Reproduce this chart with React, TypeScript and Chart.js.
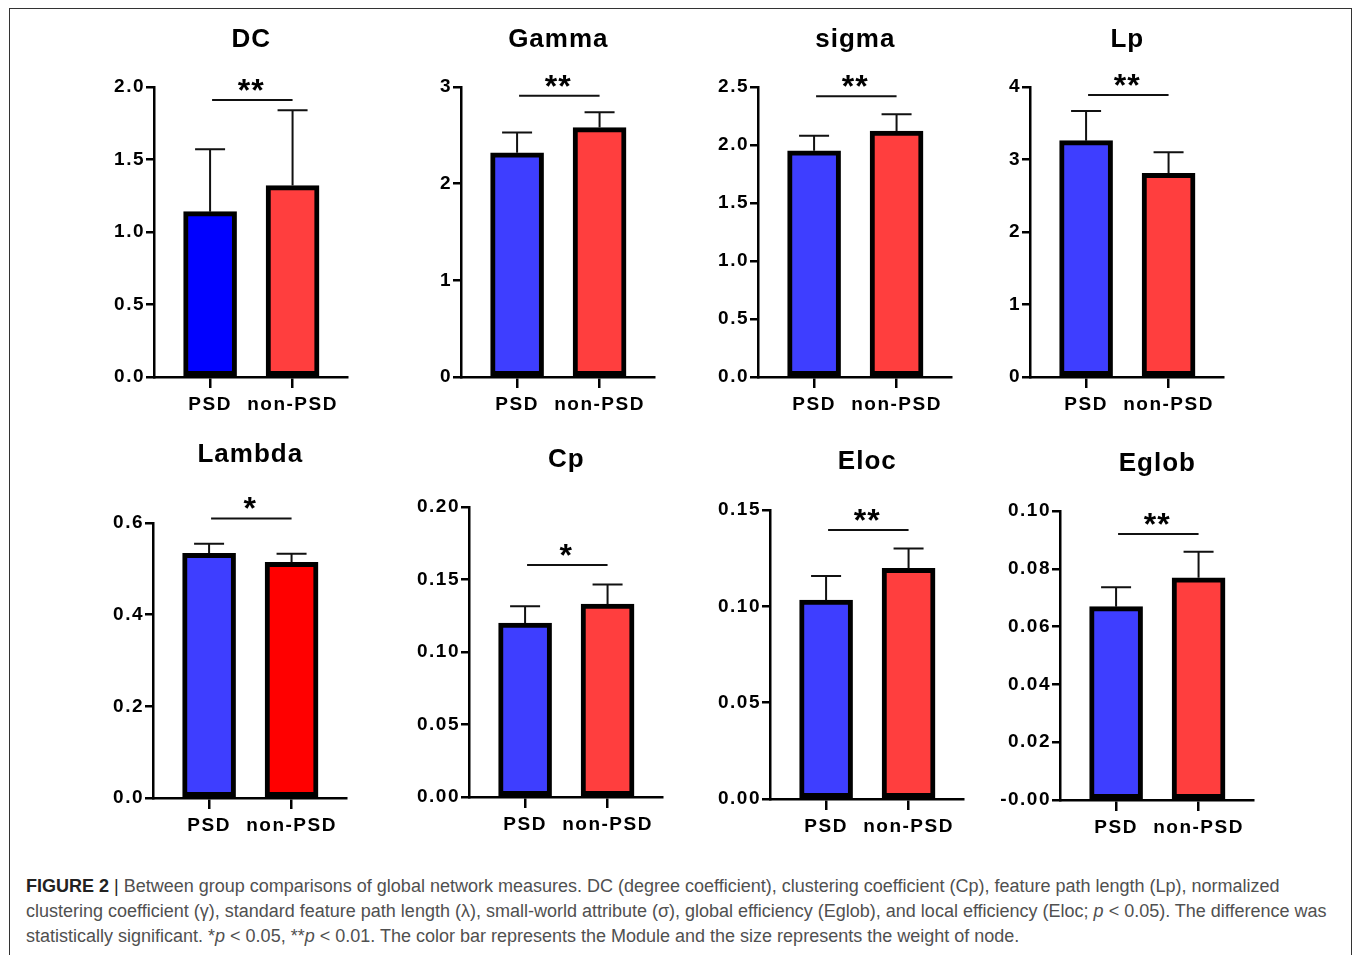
import React, { useEffect, useRef } from 'react';
import { Chart, registerables } from 'chart.js';

Chart.register(...registerables);

// ---------- data ----------
const groups = ['PSD', 'non-PSD'];
const panelTitles = ['DC', 'Gamma', 'sigma', 'Lp', 'Lambda', 'Cp', 'Eloc', 'Eglob'];

const dcMeans = [1.14, 1.32];
const dcErr = [0.43, 0.52];
const dcTicks = ['0.0', '0.5', '1.0', '1.5', '2.0'];

const gammaMeans = [2.32, 2.58];
const gammaErr = [0.21, 0.16];
const gammaTicks = ['0', '1', '2', '3'];

const sigmaMeans = [1.95, 2.12];
const sigmaErr = [0.13, 0.145];
const sigmaTicks = ['0.0', '0.5', '1.0', '1.5', '2.0', '2.5'];

const lpMeans = [3.26, 2.81];
const lpErr = [0.41, 0.29];
const lpTicks = ['0', '1', '2', '3', '4'];

const lambdaMeans = [0.534, 0.514];
const lambdaErr = [0.021, 0.019];
const lambdaTicks = ['0.0', '0.2', '0.4', '0.6'];

const cpMeans = [0.12, 0.133];
const cpErr = [0.0115, 0.0135];
const cpTicks = ['0.00', '0.05', '0.10', '0.15', '0.20'];

const elocMeans = [0.1032, 0.1197];
const elocErr = [0.0126, 0.0103];
const elocTicks = ['0.00', '0.05', '0.10', '0.15'];

const eglobMeans = [0.0669, 0.0769];
const eglobErr = [0.0067, 0.009];
const eglobTicks = ['-0.00', '0.02', '0.04', '0.06', '0.08', '0.10'];

const axisMax = [2.0, 3, 2.5, 4, 0.6, 0.2, 0.15, 0.1];
const axisStep = [0.5, 1, 0.5, 1, 0.2, 0.05, 0.05, 0.02];
const significance = ['**', '**', '**', '**', '*', '*', '**', '**'];
const bracketLevels = [1.91, 2.91, 2.42, 3.89, 0.61, 0.16, 0.1396, 0.092];

const allMeans = [dcMeans, gammaMeans, sigmaMeans, lpMeans, lambdaMeans, cpMeans, elocMeans, eglobMeans];
const allErr = [dcErr, gammaErr, sigmaErr, lpErr, lambdaErr, cpErr, elocErr, eglobErr];
const allTicks = [dcTicks, gammaTicks, sigmaTicks, lpTicks, lambdaTicks, cpTicks, elocTicks, eglobTicks];

// ---------- styling / layout ----------
const BLUE = '#3e3eff';
const RED = '#ff3e3e';
const barColors = [
  ['#0000ff', RED],
  [BLUE, RED],
  [BLUE, RED],
  [BLUE, RED],
  [BLUE, '#ff0000'],
  [BLUE, RED],
  [BLUE, RED],
  [BLUE, RED],
];

const layoutSpec = [
  { axisX: 154, top: 87, plotH: 290, titleGap: 47 },
  { axisX: 461, top: 87, plotH: 290, titleGap: 47 },
  { axisX: 758, top: 87, plotH: 290, titleGap: 47 },
  { axisX: 1030, top: 87, plotH: 290, titleGap: 47 },
  { axisX: 153, top: 523, plotH: 275, titleGap: 68 },
  { axisX: 469, top: 507, plotH: 290, titleGap: 47 },
  { axisX: 770, top: 510, plotH: 289, titleGap: 48 },
  { axisX: 1060, top: 511, plotH: 289, titleGap: 47 },
];

const Y_W = 80;
const PAD_TOP = 80;
const PAD_R = 20;
const PLOT_W = 193;
const X_H = 50;
const FONT = '"Liberation Sans", Arial, Helvetica, sans-serif';

function Panel({ idx }: { idx: number }) {
  const ref = useRef<HTMLCanvasElement | null>(null);
  const spec = layoutSpec[idx];
  const width = Y_W + PLOT_W + PAD_R;
  const height = PAD_TOP + spec.plotH + X_H;

  useEffect(() => {
    if (!ref.current) return;
    const means = allMeans[idx];
    const errs = allErr[idx];
    const tickLabels = allTicks[idx];

    const annot = {
      id: 'annot' + idx,
      beforeDraw(chart: any) {
        chart.ctx.letterSpacing = '1.5px';
      },
      afterDatasetsDraw(chart: any) {
        const ctx = chart.ctx;
        const xs = chart.scales.x;
        const ys = chart.scales.y;
        ctx.save();
        // error bars
        ctx.strokeStyle = '#111';
        ctx.lineWidth = 2;
        means.forEach((m: number, i: number) => {
          const px = xs.getPixelForValue(i);
          const y0 = ys.getPixelForValue(m);
          const y1 = ys.getPixelForValue(m + errs[i]);
          ctx.beginPath();
          ctx.moveTo(px, y0);
          ctx.lineTo(px, y1);
          ctx.moveTo(px - 15, y1);
          ctx.lineTo(px + 15, y1);
          ctx.stroke();
        });
        // significance bracket
        const bx0 = xs.getPixelForValue(0);
        const bx1 = xs.getPixelForValue(1);
        const by = ys.getPixelForValue(bracketLevels[idx]);
        ctx.lineWidth = 2;
        ctx.beginPath();
        ctx.moveTo(bx0 + 2, by);
        ctx.lineTo(bx1, by);
        ctx.stroke();
        ctx.letterSpacing = '1px';
        ctx.fillStyle = '#000';
        ctx.font = `bold 32px ${FONT}`;
        ctx.textAlign = 'center';
        ctx.textBaseline = 'alphabetic';
        ctx.fillText(significance[idx], (bx0 + bx1) / 2, by + 1);
        // title
        ctx.letterSpacing = '1px';
        ctx.font = `bold 26px ${FONT}`;
        ctx.textBaseline = 'middle';
        ctx.fillText(panelTitles[idx], (bx0 + bx1) / 2, chart.chartArea.top - spec.titleGap);
        ctx.restore();
      },
    };

    const chart = new Chart(ref.current, {
      type: 'bar',
      data: {
        datasets: [
          {
            data: means.map((m: number, i: number) => ({ x: i, y: m })),
            backgroundColor: barColors[idx],
            borderColor: '#000',
            borderWidth: 5,
            borderSkipped: false,
            barThickness: 53,
          },
        ],
      },
      options: {
        animation: false,
        responsive: false,
        maintainAspectRatio: false,
        events: [],
        layout: { padding: { top: PAD_TOP, right: PAD_R, left: 0, bottom: 0 } },
        plugins: { legend: { display: false }, tooltip: { enabled: false }, title: { display: false } },
        scales: {
          x: {
            type: 'linear',
            min: -0.68,
            max: 1.66,
            offset: false,
            afterFit(s: any) {
              s.height = X_H;
            },
            ticks: {
              stepSize: 1,
              includeBounds: false,
              autoSkip: false,
              maxRotation: 0,
              padding: 5,
              color: '#000',
              font: { family: FONT, size: 19, weight: 'bold' },
              callback: (v: any) => groups[v] ?? '',
            },
            grid: {
              offset: false,
              drawOnChartArea: false,
              drawTicks: true,
              tickLength: 11,
              lineWidth: 2.5,
              color: '#000',
            },
            border: { display: true, color: '#000', width: 2.5 },
          },
          y: {
            type: 'linear',
            min: 0,
            max: axisMax[idx],
            afterFit(s: any) {
              s.width = Y_W;
            },
            ticks: {
              stepSize: axisStep[idx],
              padding: 1,
              color: '#000',
              font: { family: FONT, size: 19, weight: 'bold' },
              callback: (_v: any, i: number) => tickLabels[i] ?? '',
            },
            grid: {
              drawOnChartArea: false,
              drawTicks: true,
              tickLength: 8,
              lineWidth: 2.5,
              color: '#000',
            },
            border: { display: true, color: '#000', width: 2.5 },
          },
        },
      },
      plugins: [annot],
    });
    return () => chart.destroy();
  }, [idx]);

  return (
    <canvas
      ref={ref}
      width={width}
      height={height}
      style={{
        position: 'absolute',
        left: spec.axisX - Y_W,
        top: spec.top - PAD_TOP,
        width,
        height,
      }}
    />
  );
}

export default function App() {
  return (
    <div
      style={{
        position: 'absolute',
        left: 0,
        top: 0,
        width: 1358,
        height: 955,
        background: '#fff',
        overflow: 'hidden',
      }}
    >
      <div
        style={{
          position: 'absolute',
          left: 9,
          top: 8,
          width: 1341,
          height: 960,
          border: '1.5px solid #333',
        }}
      />
      {panelTitles.map((_, i) => (
        <Panel key={i} idx={i} />
      ))}
      <div
        style={{
          position: 'absolute',
          left: 26,
          top: 874,
          fontFamily: FONT,
          fontSize: 18,
          lineHeight: '25px',
          color: '#505050',
          whiteSpace: 'nowrap',
        }}
      >
        <span style={{ fontWeight: 'bold', color: '#222' }}>FIGURE 2</span>
        <span style={{ color: '#222' }}> | </span>
        Between group comparisons of global network measures. DC (degree coefficient), clustering coefficient (Cp), feature path length (Lp), normalized
        <br />
        clustering coefficient (γ), standard feature path length (λ), small-world attribute (σ), global efficiency (Eglob), and local efficiency (Eloc; <i>p</i> &lt; 0.05). The difference was
        <br />
        statistically significant. *<i>p</i> &lt; 0.05, **<i>p</i> &lt; 0.01. The color bar represents the Module and the size represents the weight of node.
      </div>
    </div>
  );
}
